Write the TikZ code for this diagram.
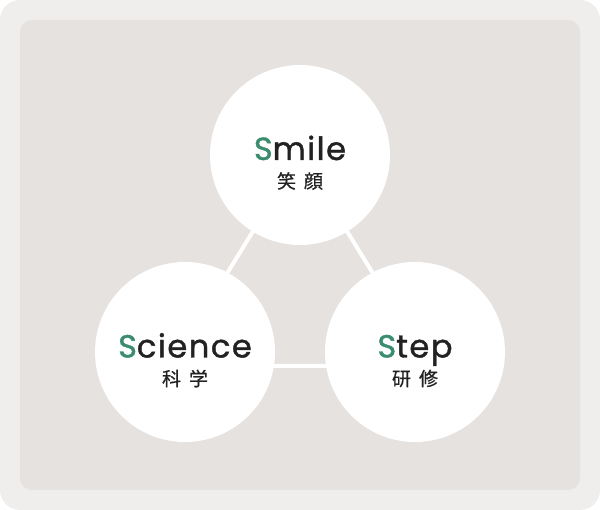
\documentclass[tikz,border=0pt]{standalone}
\usepackage{fontspec}
\newfontfamily\latinfont{Poppins}[LetterSpace=5,FakeBold=1.2]
\newfontfamily\cjkfont{Noto Sans CJK JP}[FakeBold=0.6]
\definecolor{outerbg}{RGB}{239,238,236}
\definecolor{innerbg}{RGB}{229,226,223}
\definecolor{accent}{RGB}{59,140,110}
\definecolor{ink}{RGB}{34,34,34}
\begin{document}
\begin{tikzpicture}[x=1pt,y=-1pt,
  bubble/.style={circle, fill=white, minimum size=180pt, inner sep=0pt},
  title/.style={anchor=base, inner sep=0pt, font=\latinfont\fontsize{32}{32}\selectfont, text=ink},
  sub/.style={anchor=center, inner sep=0pt, font=\cjkfont\fontsize{19}{19}\selectfont, text=ink},
  link/.style={draw=white, line width=4pt}]
\fill[white] (0,0) rectangle (600,510);
\useasboundingbox (0,0) rectangle (600,510);
\fill[outerbg, rounded corners=20pt] (0,0) rectangle (600,510);
\fill[innerbg, rounded corners=12pt] (20,20) rectangle (580,490);
\coordinate (vT) at (300,155);
\coordinate (vL) at (170,366);
\coordinate (vR) at (430,366);
\draw[link] (vT) -- (vL) -- (vR) -- cycle;
\node[bubble] (smile) at (300,155) {};
\node[bubble] (science) at (185,352) {};
\node[bubble] (step) at (415,352) {};
\node[title] (smileT) at (300,160) {\textcolor{accent}{S}mile};
\node[sub] (smileJ) at (300,181) {笑\hspace{8pt}顔};
\node[title] (scienceT) at (185,357.5) {\textcolor{accent}{S}cience};
\node[sub] (scienceJ) at (185,378.5) {科\hspace{8pt}学};
\node[title] (stepT) at (415,357.5) {\textcolor{accent}{S}tep};
\node[sub] (stepJ) at (415,378.5) {研\hspace{8pt}修};
\end{tikzpicture}
\end{document}
